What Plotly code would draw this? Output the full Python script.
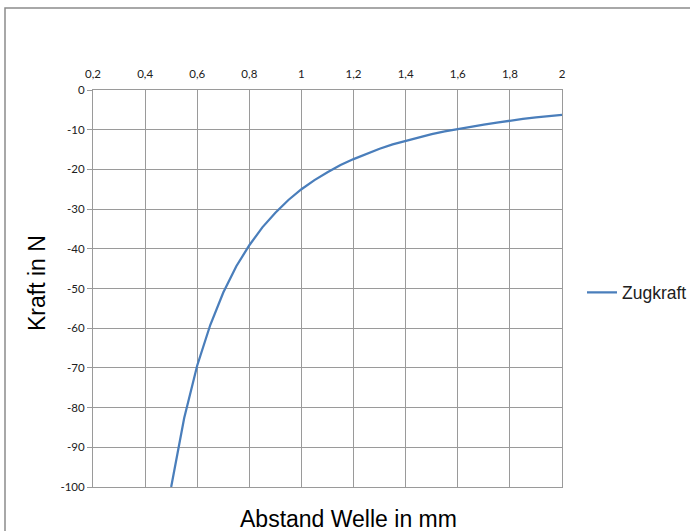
import plotly.graph_objects as go

# Data
abstand = [0.5, 0.55, 0.6, 0.65, 0.7, 0.75, 0.8, 0.85, 0.9, 0.95, 1.0,
           1.05, 1.1, 1.15, 1.2, 1.25, 1.3, 1.35, 1.4, 1.45, 1.5,
           1.55, 1.6, 1.65, 1.7, 1.75, 1.8, 1.85, 1.9, 1.95, 2.0]
zugkraft = [-100, -82.6, -69.4, -59.2, -51.0, -44.4, -39.1, -34.6, -30.9, -27.7, -25.0,
            -22.7, -20.7, -18.9, -17.4, -16.0, -14.8, -13.7, -12.8, -11.9, -11.1,
            -10.4, -9.8, -9.2, -8.7, -8.2, -7.7, -7.3, -6.9, -6.6, -6.25]

x_ticks = [0.2, 0.4, 0.6, 0.8, 1.0, 1.2, 1.4, 1.6, 1.8, 2.0]
x_ticklabels = ["0,2", "0,4", "0,6", "0,8", "1", "1,2", "1,4", "1,6", "1,8", "2"]
y_ticks = [0, -10, -20, -30, -40, -50, -60, -70, -80, -90, -100]
y_ticklabels = ["0", "-10", "-20", "-30", "-40", "-50", "-60", "-70", "-80", "-90", "-100"]

fig = go.Figure()
fig.add_trace(go.Scatter(
    x=abstand, y=zugkraft, mode="lines", name="Zugkraft",
    line=dict(color="#4A7EBB", width=2.25),
))

tick_font = dict(family="Lato, Open Sans, sans-serif", size=11.5, color="#202020")
grid_col = "#9a9a9a"

fig.update_layout(
    width=690, height=531,
    margin=dict(l=93, r=128, t=90, b=44, autoexpand=False),
    paper_bgcolor="white", plot_bgcolor="white",
    showlegend=True,
    legend=dict(x=(582 - 93) / 469, xanchor="left", y=0.49, yanchor="middle",
                font=dict(family="Liberation Sans, Arial, sans-serif", size=17.5, color="#202020"),
                bgcolor="rgba(0,0,0,0)", itemwidth=30, tracegroupgap=0),
    xaxis=dict(
        side="top", range=[0.2, 2.0], tickvals=x_ticks, ticktext=x_ticklabels,
        showgrid=True, gridcolor=grid_col, gridwidth=1,
        showline=True, linecolor=grid_col, linewidth=1, mirror=True,
        ticks="", tickfont=tick_font, zeroline=False, ticklabelstandoff=6,
        automargin=False,
    ),
    yaxis=dict(
        range=[-100, 0], tickvals=y_ticks, ticktext=y_ticklabels,
        showgrid=True, gridcolor=grid_col, gridwidth=1,
        showline=True, linecolor=grid_col, linewidth=1, mirror=True,
        ticks="outside", ticklen=5, tickcolor=grid_col, tickfont=tick_font,
        zeroline=False, automargin=False,
    ),
)

fig.add_annotation(text="Abstand Welle in mm", xref="paper", yref="paper",
                   x=(348 - 93) / 469, y=-(519 - 487) / 397, xanchor="center", yanchor="middle",
                   showarrow=False,
                   font=dict(family="Liberation Sans, Arial, sans-serif", size=23, color="#000000"))
fig.add_annotation(text="Kraft in N", xref="paper", yref="paper",
                   x=-(93 - 37) / 469, y=(487 - 283) / 397, xanchor="center", yanchor="middle",
                   textangle=-90, showarrow=False,
                   font=dict(family="Liberation Sans, Arial, sans-serif", size=23, color="#000000"))

# outer chart border (partially off-canvas as in the reference)
fig.add_shape(type="rect", xref="paper", yref="paper",
              x0=-(93 - 5) / 469, x1=(720 - 93) / 469,
              y0=-(560 - 487) / 397, y1=(487 - 8) / 397,
              line=dict(color="#8c8c8c", width=1.5), fillcolor="rgba(0,0,0,0)", layer="below")

fig.write_html("out.html")
